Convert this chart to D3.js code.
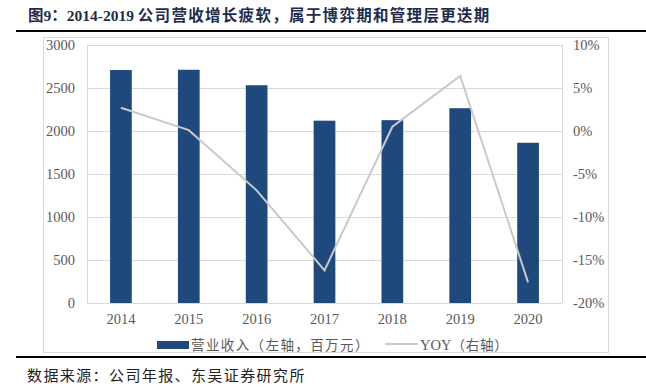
<!DOCTYPE html>
<html>
<head>
<meta charset="utf-8">
<script src="https://cdn.jsdelivr.net/npm/d3@7"></script>
<style>
  body { margin: 0; background: #fff; }
  svg { display: block; font-family: 'Liberation Serif', 'Noto Sans CJK SC', serif; }
</style>
</head>
<body>
<script>
// data
const years = ['2014', '2015', '2016', '2017', '2018', '2019', '2020'];
const revenue = [2709, 2712, 2532, 2120, 2126, 2265, 1863];
const yoy = [2.7, 0.1, -6.9, -16.2, 0.5, 6.4, -17.6];
const leftTicks = [0, 500, 1000, 1500, 2000, 2500, 3000];
const rightTicks = [-20, -15, -10, -5, 0, 5, 10];

const W = 646, H = 391;
const plot = { left: 87, right: 562, top: 45, bottom: 303 };

const svg = d3.select('body').append('svg')
  .attr('width', W)
  .attr('height', H);

// title and rules
const title = svg.append('text')
  .attr('x', 28)
  .attr('y', 21)
  .attr('font-size', 15.5)
  .attr('font-weight', 'bold')
  .attr('fill', '#1f2d4d');
title.append('tspan').text('图9：2014-2019 ');
title.append('tspan')
  .attr('letter-spacing', 1.3)
  .text('公司营收增长疲软，属于博弈期和管理层更迭期');

svg.append('line')
  .attr('x1', 16).attr('x2', W)
  .attr('y1', 31).attr('y2', 31)
  .attr('stroke', '#000').attr('stroke-width', 2);

svg.append('line')
  .attr('x1', 16).attr('x2', W)
  .attr('y1', 357).attr('y2', 357)
  .attr('stroke', '#000').attr('stroke-width', 2);

svg.append('text')
  .attr('x', 27)
  .attr('y', 381)
  .attr('font-size', 15)
  .attr('letter-spacing', 1.4)
  .attr('fill', '#222')
  .text('数据来源：公司年报、东吴证券研究所');

// chart frame
svg.append('rect')
  .attr('x', 43.5).attr('y', 37.5)
  .attr('width', 565).attr('height', 315)
  .attr('fill', 'none')
  .attr('stroke', '#d9d9d9');

const x = d3.scaleBand()
  .domain(years)
  .range([plot.left, plot.right])
  .paddingInner(0.68)
  .paddingOuter(0.34);

const yL = d3.scaleLinear().domain([0, 3000]).range([plot.bottom, plot.top]);
const yR = d3.scaleLinear().domain([-20, 10]).range([plot.bottom, plot.top]);

// gridlines
svg.append('g')
  .selectAll('line')
  .data(leftTicks)
  .join('line')
  .attr('x1', plot.left).attr('x2', plot.right)
  .attr('y1', d => Math.round(yL(d)) + 0.5)
  .attr('y2', d => Math.round(yL(d)) + 0.5)
  .attr('stroke', '#d9d9d9');

svg.append('g')
  .selectAll('line')
  .data([plot.left, plot.right])
  .join('line')
  .attr('x1', d => d + 0.5).attr('x2', d => d + 0.5)
  .attr('y1', plot.top).attr('y2', plot.bottom)
  .attr('stroke', '#d9d9d9');

// bars
svg.append('g')
  .selectAll('rect')
  .data(revenue)
  .join('rect')
  .attr('x', (d, i) => x(years[i]))
  .attr('y', d => yL(d))
  .attr('width', x.bandwidth())
  .attr('height', d => yL(0) - yL(d))
  .attr('fill', '#1f497d');

// yoy line
const line = d3.line()
  .x((d, i) => x(years[i]) + x.bandwidth() / 2)
  .y(d => yR(d));

svg.append('path')
  .attr('d', line(yoy))
  .attr('fill', 'none')
  .attr('stroke', '#c9c9c9')
  .attr('stroke-width', 2);

// axes
const leftAxis = d3.axisLeft(yL)
  .tickValues(leftTicks)
  .tickSize(0)
  .tickPadding(12)
  .tickFormat(d3.format('d'));

const rightAxis = d3.axisRight(yR)
  .tickValues(rightTicks)
  .tickSize(0)
  .tickPadding(11)
  .tickFormat(d => d + '%');

const bottomAxis = d3.axisBottom(x)
  .tickSize(0)
  .tickPadding(11);

svg.append('g')
  .attr('transform', `translate(${plot.left},0)`)
  .call(leftAxis);

svg.append('g')
  .attr('transform', `translate(${plot.right},0)`)
  .call(rightAxis);

svg.append('g')
  .attr('transform', `translate(0,${plot.bottom})`)
  .call(bottomAxis);

svg.selectAll('.domain').remove();
svg.selectAll('.tick text')
  .attr('font-family', "'Liberation Serif', serif")
  .attr('font-size', 14.5)
  .attr('fill', '#595959');

// legend
const legend = svg.append('g');
legend.append('rect')
  .attr('x', 157).attr('y', 341)
  .attr('width', 32).attr('height', 8)
  .attr('fill', '#1f497d');
legend.append('text')
  .attr('x', 191).attr('y', 350)
  .attr('font-size', 13.5)
  .attr('fill', '#595959')
  .attr('letter-spacing', 1.4)
  .text('营业收入（左轴，百万元）');
legend.append('line')
  .attr('x1', 385).attr('x2', 418)
  .attr('y1', 344).attr('y2', 344)
  .attr('stroke', '#c9c9c9').attr('stroke-width', 2);
const yoyLabel = legend.append('text')
  .attr('x', 420).attr('y', 350)
  .attr('font-size', 13.5)
  .attr('fill', '#595959');
yoyLabel.append('tspan').attr('font-size', 14.5).text('YOY');
yoyLabel.append('tspan').attr('letter-spacing', 0.8).text('（右轴）');
</script>
</body>
</html>
